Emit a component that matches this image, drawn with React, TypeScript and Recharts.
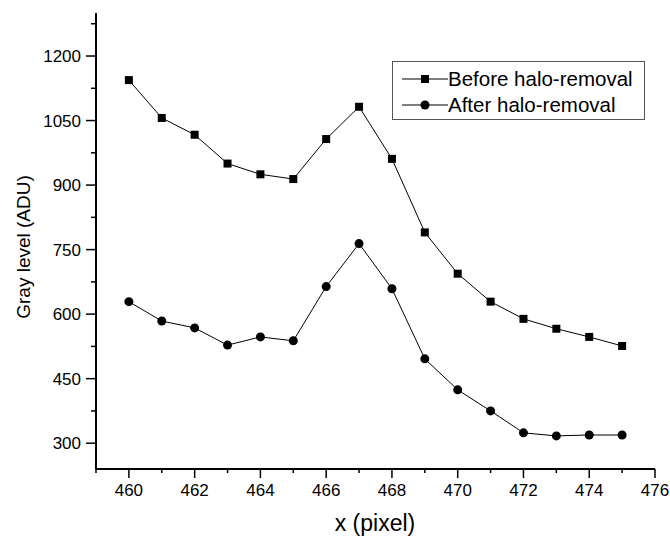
import { LineChart, Line, XAxis, YAxis, Label } from "recharts";

const pixels = [460, 461, 462, 463, 464, 465, 466, 467, 468, 469, 470, 471, 472, 473, 474, 475];
const before = [1144, 1056, 1017, 950, 925, 914, 1007, 1082, 961, 790, 694, 629, 589, 566, 547, 526];
const after = [629, 584, 568, 528, 547, 538, 664, 764, 659, 496, 424, 375, 324, 317, 319, 319];

const xTicks = [459, 460, 461, 462, 463, 464, 465, 466, 467, 468, 469, 470, 471, 472, 473, 474, 475, 476];
const yTicks = [300, 375, 450, 525, 600, 675, 750, 825, 900, 975, 1050, 1125, 1200, 1275];

const data = pixels.map((x, i) => ({ x, before: before[i], after: after[i] }));

const font = "'Liberation Sans', Arial, sans-serif";

const XTick = (props: any) => {
  const { x, y, payload } = props;
  const major = payload.value % 2 === 0;
  return (
    <g>
      <line x1={x} y1={y} x2={x} y2={y + (major ? 9 : 4)} stroke="#000" strokeWidth={1.5} />
      {major && (
        <text x={x} y={y + 27} textAnchor="middle" fontSize={17} fontFamily={font} fill="#000">
          {payload.value}
        </text>
      )}
    </g>
  );
};

const YTick = (props: any) => {
  const { x, y, payload } = props;
  const major = payload.value % 150 === 0;
  return (
    <g>
      <line x1={x} y1={y} x2={x - (major ? 10 : 5)} y2={y} stroke="#000" strokeWidth={1.5} />
      {major && (
        <text x={x - 15} y={y + 6} textAnchor="end" fontSize={17} fontFamily={font} fill="#000">
          {payload.value}
        </text>
      )}
    </g>
  );
};

const Square = (props: any) => {
  const { cx, cy } = props;
  return <rect x={cx - 4} y={cy - 4} width={8} height={8} fill="#000" />;
};

const Dot = (props: any) => {
  const { cx, cy } = props;
  return <circle cx={cx} cy={cy} r={4.5} fill="#000" />;
};

const legendItems = [
  { label: "Before halo-removal", shape: "square" },
  { label: "After halo-removal", shape: "circle" },
];

const LegendBox = () => (
  <div
    style={{
      position: "absolute",
      left: 392,
      top: 61,
      border: "1px solid #555",
      width: 253,
      height: 59,
      boxSizing: "border-box",
      fontFamily: font,
      fontSize: 20.5,
      color: "#000",
      background: "#fff",
    }}
  >
    {legendItems.map((item, i) => (
      <div key={i} style={{ display: "flex", alignItems: "center", height: 26, marginTop: i === 0 ? 4 : 0 }}>
        <svg width={55} height={20} style={{ flexShrink: 0 }}>
          <line x1={9} y1={10} x2={55} y2={10} stroke="#000" strokeWidth={1} />
          {item.shape === "square" ? (
            <rect x={28} y={6} width={8} height={8} fill="#000" />
          ) : (
            <circle cx={32} cy={10} r={4.5} fill="#000" />
          )}
        </svg>
        <span style={{ whiteSpace: "nowrap" }}>{item.label}</span>
      </div>
    ))}
  </div>
);

export default function App() {
  return (
    <div style={{ position: "fixed", left: 0, top: 0, width: 670, height: 536, background: "#fff" }}>
      <LineChart width={670} height={536} data={data} margin={{ top: 13, right: 15, left: 0, bottom: 0 }}>
        <XAxis
          dataKey="x"
          type="number"
          domain={[459, 476]}
          ticks={xTicks}
          interval={0}
          height={67}
          tickSize={0}
          tickMargin={0}
          tickLine={false}
          axisLine={{ stroke: "#000", strokeWidth: 2 }}
          tick={<XTick />}
        >
          <Label
            content={() => (
              <text x={375} y={531} textAnchor="middle" fontSize={23} fontFamily={font} fill="#000">
                x (pixel)
              </text>
            )}
          />
        </XAxis>
        <YAxis
          type="number"
          domain={[240, 1300]}
          ticks={yTicks}
          interval={0}
          width={96}
          tickSize={0}
          tickMargin={0}
          tickLine={false}
          axisLine={{ stroke: "#000", strokeWidth: 2 }}
          tick={<YTick />}
        >
          <Label
            content={() => (
              <text
                x={30}
                y={247}
                transform="rotate(-90 30 247)"
                textAnchor="middle"
                fontSize={19}
                fontFamily={font}
                fill="#000"
              >
                Gray level (ADU)
              </text>
            )}
          />
        </YAxis>
        <Line
          dataKey="before"
          stroke="#000"
          strokeWidth={1}
          dot={<Square />}
          activeDot={false}
          isAnimationActive={false}
        />
        <Line
          dataKey="after"
          stroke="#000"
          strokeWidth={1}
          dot={<Dot />}
          activeDot={false}
          isAnimationActive={false}
        />
      </LineChart>
      <LegendBox />
    </div>
  );
}
